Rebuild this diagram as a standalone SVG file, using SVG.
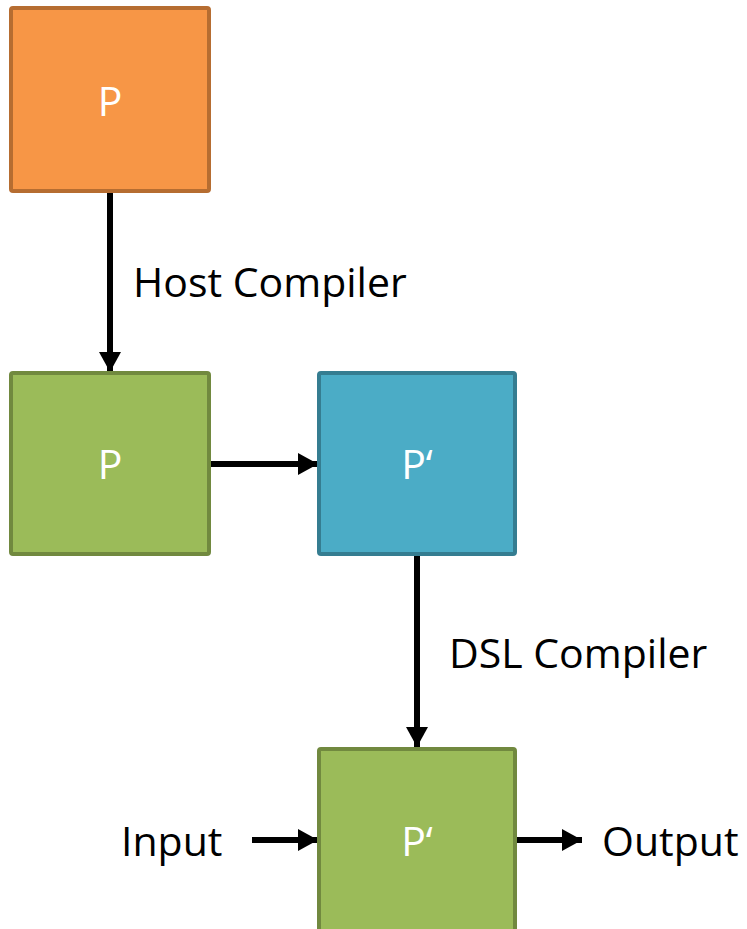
<svg xmlns="http://www.w3.org/2000/svg" width="747" height="929" viewBox="0 0 747 929">
  <style>
    .box { stroke-width: 4; }
    .orange { fill: #F79646; stroke: #B66D31; }
    .green { fill: #9BBB59; stroke: #71893F; }
    .blue { fill: #4BACC6; stroke: #357D91; }
    .in { fill: #FFFFFF; font-family: "Open Sans", "Liberation Sans", sans-serif; font-size: 41px; text-anchor: middle; }
    .lbl { fill: #000000; font-family: "Open Sans", "Liberation Sans", sans-serif; font-size: 41px; }
    .wire { stroke: #000000; stroke-width: 6; fill: none; marker-end: url(#head); }
  </style>
  <defs>
    <marker id="head" markerUnits="userSpaceOnUse" markerWidth="20" markerHeight="22" refX="20" refY="11" orient="auto">
      <path d="M0,0 L20,11 L0,22 Z" fill="#000000"/>
    </marker>
  </defs>
  <rect width="747" height="929" fill="#FFFFFF"/>

  <g id="connectors">
    <line class="wire" x1="110" y1="192" x2="110" y2="372"/>
    <line class="wire" x1="210" y1="464" x2="318" y2="464"/>
    <line class="wire" x1="417" y1="556" x2="417" y2="747"/>
    <line class="wire" x1="252" y1="840" x2="318" y2="840"/>
    <line class="wire" x1="517" y1="840" x2="582" y2="840"/>
  </g>

  <g id="source">
    <rect class="box orange" x="11" y="8" width="198" height="183" rx="2"/>
    <text class="in" x="110" y="116">P</text>
  </g>

  <g id="host-binary">
    <rect class="box green" x="11" y="373" width="198" height="181" rx="2"/>
    <text class="in" x="110" y="479">P</text>
  </g>

  <g id="dsl-program">
    <rect class="box blue" x="319" y="373" width="196" height="181" rx="2"/>
    <text class="in" x="417" y="479">P‘</text>
  </g>

  <g id="dsl-binary">
    <rect class="box green" x="319" y="749" width="196" height="190" rx="2"/>
    <text class="in" x="417" y="856">P‘</text>
  </g>

  <g id="labels">
    <text class="lbl" x="133" y="297">Host Compiler</text>
    <text class="lbl" x="449" y="668">DSL Compiler</text>
    <text class="lbl" x="121" y="856">Input</text>
    <text class="lbl" x="602" y="856">Output</text>
  </g>
</svg>
